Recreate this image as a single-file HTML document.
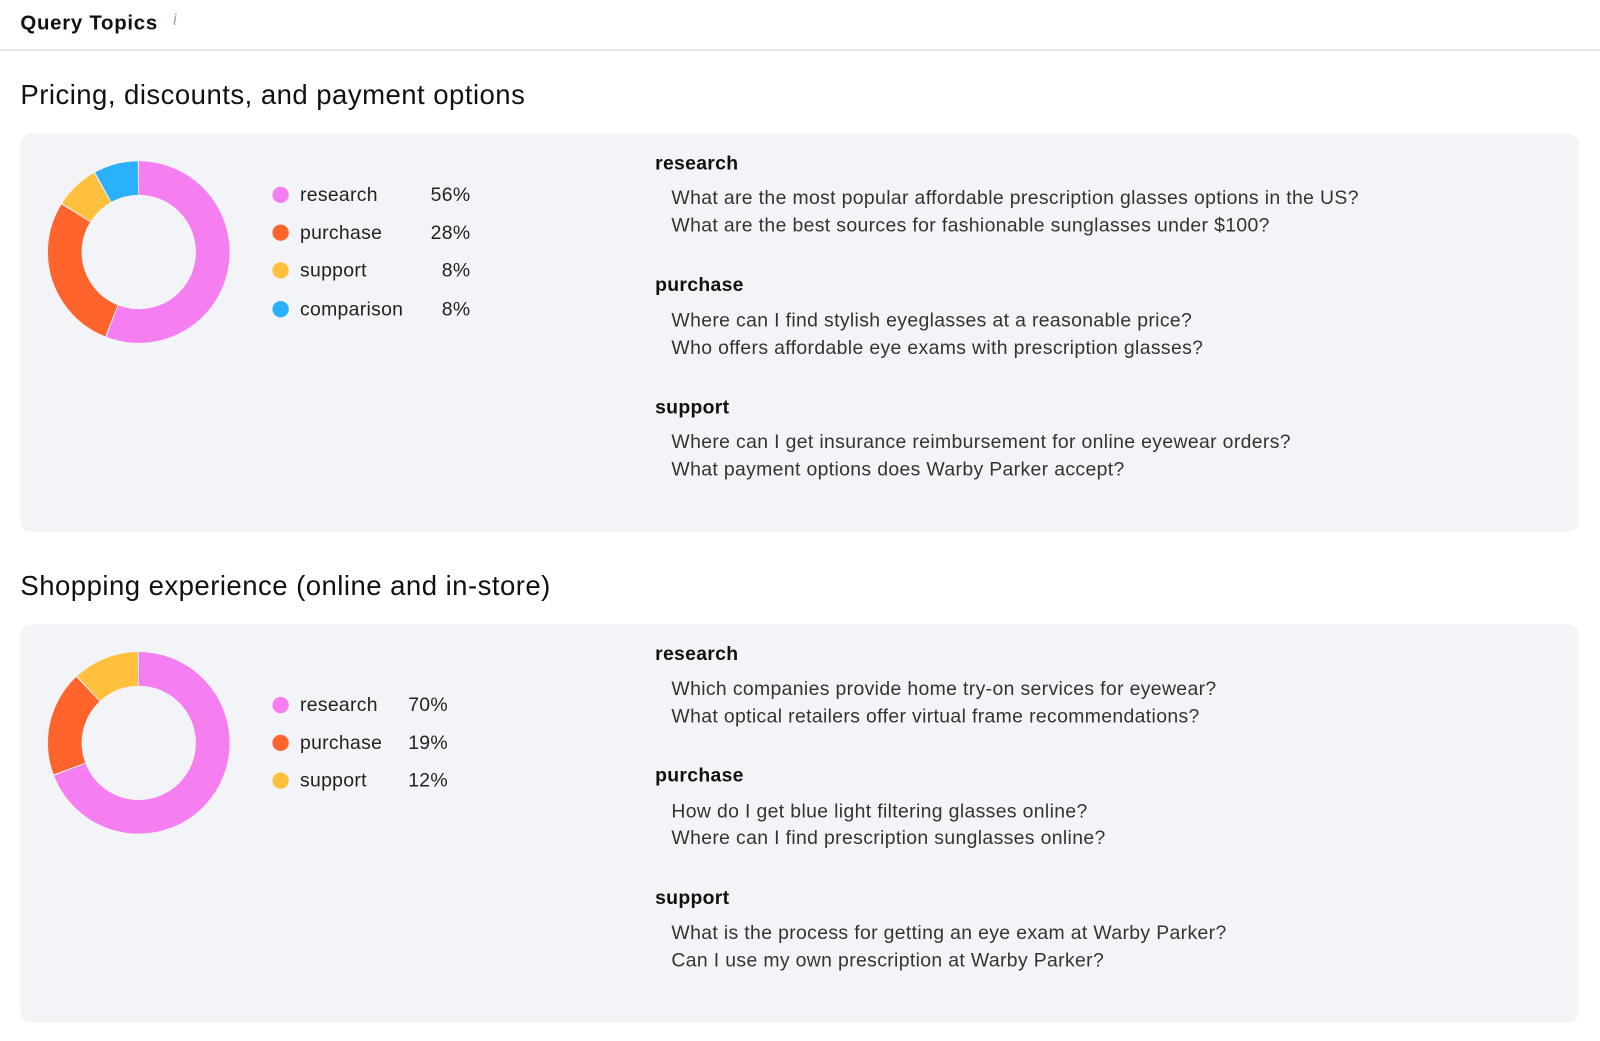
<!DOCTYPE html>
<html><head><meta charset="utf-8"><style>
*{margin:0;padding:0;box-sizing:border-box}
body{width:1600px;height:1040px;background:#fff;font-family:"Liberation Sans",sans-serif;color:#111;overflow:hidden}
#w{position:absolute;left:0;top:0;width:1568px;height:1020px;transform:scale(1.0204);transform-origin:0 0}
.a{position:absolute;white-space:nowrap}
.hdr{left:20px;top:10px;font-size:20px;font-weight:bold;line-height:26px;letter-spacing:0.7px}
.info{left:169px;top:9px;font-size:17px;color:#9aa0ad;font-style:italic;font-family:"Liberation Serif",serif}
.line{left:0;top:48px;width:1568px;height:2px;background:#e6e7eb}
.ttl{left:20px;font-size:27px;line-height:32px;color:#111;letter-spacing:0.45px}
.card{left:20px;width:1527px;height:390px;background:#f3f4f8;border-radius:10px}
.lg{font-size:19px;line-height:22px;color:#222;letter-spacing:0.3px;margin-top:2px}
.dot{width:16px;height:16px;border-radius:50%;margin-top:1px}
.h{font-size:19px;font-weight:bold;line-height:22px;left:642px;letter-spacing:0.3px;margin-top:2px}
.q{font-size:19px;line-height:22px;left:658px;color:#333;letter-spacing:0.35px;margin-top:2px}
.pct{text-align:right;width:80px}
</style></head><body><div id="w">
<div class="a hdr">Query Topics</div><div class="a info">i</div>
<div class="a line"></div>

<div class="a ttl" style="top:77px">Pricing, discounts, and payment options</div>
<div class="a card" style="top:131px"></div>
<div class="a ttl" style="top:558px">Shopping experience (online and in-store)</div>
<div class="a card" style="top:612px"></div>
<svg class="a" style="left:0;top:0" width="600" height="1020">
<g transform="translate(136,247) rotate(-90)" fill="none" stroke-width="33">
<circle r="72.5" stroke="#f57ff0" stroke-dasharray="254.1 201.4" stroke-dashoffset="0"/>
<circle r="72.5" stroke="#ff642d" stroke-dasharray="126.5 329" stroke-dashoffset="-255.1"/>
<circle r="72.5" stroke="#ffc13d" stroke-dasharray="35.4 420.1" stroke-dashoffset="-382.6"/>
<circle r="72.5" stroke="#2bb0fc" stroke-dasharray="35.5 420" stroke-dashoffset="-419"/>
</g>
<g transform="translate(136,728) rotate(-90)" fill="none" stroke-width="33">
<circle r="72.5" stroke="#f57ff0" stroke-dasharray="314.7 140.8" stroke-dashoffset="0"/>
<circle r="72.5" stroke="#ff642d" stroke-dasharray="84.7 370.8" stroke-dashoffset="-315.7"/>
<circle r="72.5" stroke="#ffc13d" stroke-dasharray="53.1 402.4" stroke-dashoffset="-401.4"/>
</g>
</svg>
<div class="a dot" style="left:267px;top:182px;background:#f57ff0"></div><div class="a lg" style="left:294px;top:179px">research</div><div class="a lg pct" style="left:381px;top:179px">56%</div>
<div class="a dot" style="left:267px;top:219px;background:#ff642d"></div><div class="a lg" style="left:294px;top:216px">purchase</div><div class="a lg pct" style="left:381px;top:216px">28%</div>
<div class="a dot" style="left:267px;top:256px;background:#ffc13d"></div><div class="a lg" style="left:294px;top:253px">support</div><div class="a lg pct" style="left:381px;top:253px">8%</div>
<div class="a dot" style="left:267px;top:294px;background:#2bb0fc"></div><div class="a lg" style="left:294px;top:291px">comparison</div><div class="a lg pct" style="left:381px;top:291px">8%</div>

<div class="a h" style="top:148px">research</div>
<div class="a q" style="top:182px">What are the most popular affordable prescription glasses options in the US?</div>
<div class="a q" style="top:209px">What are the best sources for fashionable sunglasses under $100?</div>
<div class="a h" style="top:267px">purchase</div>
<div class="a q" style="top:302px">Where can I find stylish eyeglasses at a reasonable price?</div>
<div class="a q" style="top:329px">Who offers affordable eye exams with prescription glasses?</div>
<div class="a h" style="top:387px">support</div>
<div class="a q" style="top:421px">Where can I get insurance reimbursement for online eyewear orders?</div>
<div class="a q" style="top:448px">What payment options does Warby Parker accept?</div>

<div class="a dot" style="left:267px;top:682px;background:#f57ff0"></div><div class="a lg" style="left:294px;top:679px">research</div><div class="a lg pct" style="left:359px;top:679px">70%</div>
<div class="a dot" style="left:267px;top:719px;background:#ff642d"></div><div class="a lg" style="left:294px;top:716px">purchase</div><div class="a lg pct" style="left:359px;top:716px">19%</div>
<div class="a dot" style="left:267px;top:756px;background:#ffc13d"></div><div class="a lg" style="left:294px;top:753px">support</div><div class="a lg pct" style="left:359px;top:753px">12%</div>

<div class="a h" style="top:629px">research</div>
<div class="a q" style="top:663px">Which companies provide home try-on services for eyewear?</div>
<div class="a q" style="top:690px">What optical retailers offer virtual frame recommendations?</div>
<div class="a h" style="top:748px">purchase</div>
<div class="a q" style="top:783px">How do I get blue light filtering glasses online?</div>
<div class="a q" style="top:809px">Where can I find prescription sunglasses online?</div>
<div class="a h" style="top:868px">support</div>
<div class="a q" style="top:902px">What is the process for getting an eye exam at Warby Parker?</div>
<div class="a q" style="top:929px">Can I use my own prescription at Warby Parker?</div>
</div></body></html>
